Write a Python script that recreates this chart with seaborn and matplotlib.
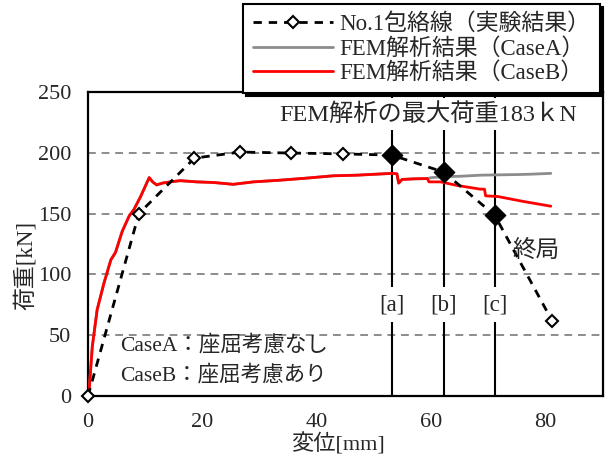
import matplotlib
matplotlib.use("Agg")
import matplotlib.pyplot as plt
import seaborn as sns
import pandas as pd

# --- data -------------------------------------------------------------
# No.1 envelope (experiment)
disp_exp = [0, 8.9, 18.6, 26.6, 35.4, 44.5, 53.1, 62.2, 71.1, 81.1]
load_exp = [0, 150, 195.5, 200.5, 199.7, 199, 198, 184, 148.5, 62]

# key states [a] [b] [c] on the envelope
disp_key = [53.1, 62.2, 71.1]
load_key = [198, 184, 148.5]
key_labels = ["[a]", "[b]", "[c]"]

# FEM: common path of CaseA and CaseB (identical until buckling sets in)
disp_fem_common = [0, 0.2, 0.75, 1.6, 2.8, 4.0, 4.8, 6.0, 7.2, 8.05, 9.2, 10.7,
                   11.3, 12.0, 13.0, 14.4, 16.1, 19.0, 21.9, 25.4, 28.9, 33.6,
                   38.0, 42.9, 47.0, 51.1, 53.2, 54.0, 54.3, 54.9, 57.0, 59.3]
load_fem_common = [0, 5, 40.7, 71, 93, 112, 118, 135.6, 148, 153.5, 164, 179.5,
                   176, 173.5, 175, 176, 177, 176, 175.5, 174, 176, 177.4,
                   179, 181, 181.5, 182.5, 183, 182.6, 175, 178, 178.5, 178.7]

# CaseA (no buckling) tail
disp_a_tail = [60.0, 62.8, 65.0, 68.6, 72.0, 75.0, 77.4, 80.9]
load_a_tail = [179.5, 180.4, 180.6, 181.5, 181.8, 182.0, 182.3, 183]

# CaseB (with buckling) tail
disp_b_tail = [59.6, 61.6, 64.6, 68.6, 69.3, 69.5, 71.6, 76.0, 80.9]
load_b_tail = [176, 176, 173, 170, 170, 164.5, 164, 160, 156]

fem_max = 183

# --- styling ----------------------------------------------------------
sns.set_style("white")
plt.rcParams["font.family"] = ["Liberation Serif", "Noto Sans CJK JP"]
plt.rcParams["axes.unicode_minus"] = False

fig = plt.figure(figsize=(6.09, 4.59), dpi=100)
ax = fig.add_axes([0.1445, 0.137, 0.8455, 0.663])

df_exp = pd.DataFrame({"disp": disp_exp, "load": load_exp})
df_a = pd.DataFrame({"disp": disp_fem_common + disp_a_tail,
                     "load": load_fem_common + load_a_tail})
df_b = pd.DataFrame({"disp": disp_fem_common + disp_b_tail,
                     "load": load_fem_common + load_b_tail})
df_key = pd.DataFrame({"disp": disp_key, "load": load_key})

# grid lines
for yv in [50, 100, 150, 200]:
    ax.axhline(yv, color="#8c8c8c", lw=1.4, ls=(0, (4, 3)), zorder=0)

# key state vertical lines
for xv in disp_key:
    ax.axvline(xv, color="black", lw=1.5, zorder=1)

sns.lineplot(data=df_a, x="disp", y="load", ax=ax, sort=False, estimator=None,
             color="#8c8c8c", lw=2.0, label="FEM解析結果（CaseA）", zorder=3)
sns.lineplot(data=df_b, x="disp", y="load", ax=ax, sort=False, estimator=None,
             color="#ff0000", lw=2.0, label="FEM解析結果（CaseB）", zorder=4)
sns.lineplot(data=df_exp, x="disp", y="load", ax=ax, sort=False, estimator=None,
             color="black", lw=2.0, linestyle=(0, (3, 2.5)), marker="D",
             markersize=6, markerfacecolor="white", markeredgecolor="black",
             markeredgewidth=1.5, label="No.1包絡線（実験結果）", zorder=5,
             clip_on=False)
sns.scatterplot(data=df_key, x="disp", y="load", ax=ax, marker="D", s=110,
                color="black", edgecolor="black", zorder=6)

ax.set_xlim(0, 90)
ax.set_ylim(0, 250)
ax.set_xticks([0, 20, 40, 60, 80])
ax.set_yticks([0, 50, 100, 150, 200, 250])
ax.tick_params(axis="x", length=0, labelsize=16, pad=12)
ax.tick_params(axis="y", length=0, labelsize=16, pad=12)
for s in ax.spines.values():
    s.set_color("black")
    s.set_linewidth(1.6)

ax.set_xlabel("変位[mm]", fontsize=16)
ax.xaxis.label.set_va("center")
ax.xaxis.set_label_coords(0.485, -0.16)
ax.set_ylabel("荷重[kN]", fontsize=16.5)
ax.yaxis.set_label_coords(-0.1, 0.43)

# annotations
white = dict(facecolor="white", edgecolor="none", boxstyle="square,pad=0.2")
ax.text(59.4, 231.8, f"FEM解析の最大荷重{fem_max}ｋN", fontsize=17.5,
        ha="center", va="center", bbox=white, zorder=7)
for xv, lab in zip(disp_key, key_labels):
    ax.text(xv, 75, lab, fontsize=16.5, ha="center", va="center",
            bbox=dict(facecolor="white", edgecolor="none",
                      boxstyle="square,pad=0.3"), zorder=7)
ax.text(78.3, 119, "終局", fontsize=17, ha="center", va="center", zorder=7)
ax.text(5.6, 42, "CaseA：座屈考慮なし", fontsize=15.5, ha="left", va="center", zorder=7)
ax.text(5.6, 17, "CaseB：座屈考慮あり", fontsize=15.5, ha="left", va="center", zorder=7)

# legend in the order experiment, CaseA, CaseB
handles, labels = ax.get_legend_handles_labels()
order = [labels.index("No.1包絡線（実験結果）"),
         labels.index("FEM解析結果（CaseA）"),
         labels.index("FEM解析結果（CaseB）")]
if ax.get_legend():
    ax.get_legend().remove()
leg = fig.legend([handles[i] for i in order], [labels[i] for i in order],
                 loc="upper right", bbox_to_anchor=(0.985, 0.991),
                 borderaxespad=0, fontsize=16.5, frameon=True, fancybox=False,
                 shadow={"color": "black", "alpha": 1}, handlelength=3.5,
                 handletextpad=0.3, labelspacing=0.12, borderpad=0.4)
leg.get_frame().set_edgecolor("black")
leg.get_frame().set_linewidth(1.5)
leg.get_frame().set_alpha(1)
leg.set_zorder(10)

fig.savefig("out.png", dpi=100)
